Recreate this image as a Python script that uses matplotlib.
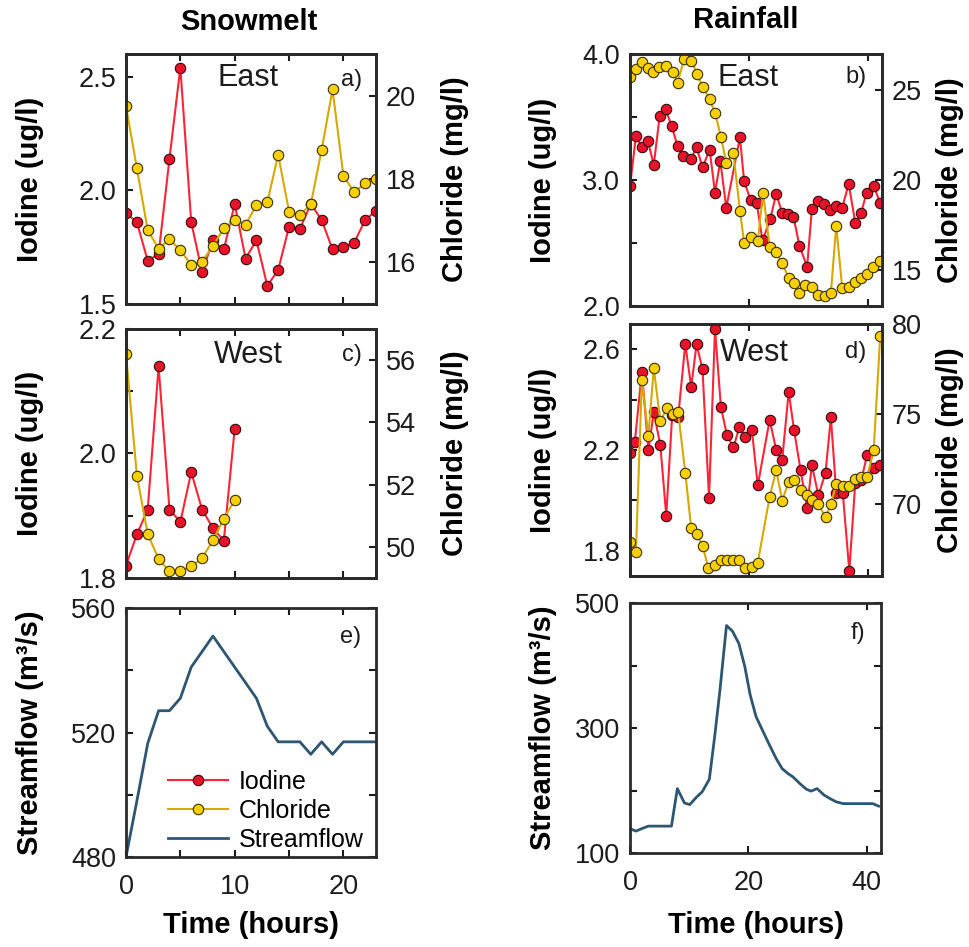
import matplotlib
matplotlib.use('Agg')
import matplotlib.pyplot as plt

plt.rcParams['font.family'] = ['Liberation Sans', 'DejaVu Sans']

# ---- Snowmelt (hourly) ----
snow_east_hours = list(range(24))
snow_east_iodine = [1.90, 1.86, 1.69, 1.72, 2.14, 2.54, 1.86, 1.64, 1.78, 1.74, 1.94, 1.70,
                    1.78, 1.58, 1.65, 1.84, 1.83, 1.94, 1.87, 1.74, 1.75, 1.77, 1.87, 1.91]
snow_east_chloride = [19.75, 18.26, 16.77, 16.33, 16.55, 16.30, 15.93, 16.02, 16.39, 16.82, 17.02, 16.90,
                      17.38, 17.44, 18.58, 17.22, 17.14, 17.39, 18.70, 20.15, 18.08, 17.68, 17.90, 18.01]

snow_west_hours = list(range(11))
snow_west_iodine = [1.82, 1.87, 1.91, 2.14, 1.91, 1.89, 1.97, 1.91, 1.88, 1.86, 2.04]
snow_west_chloride = [56.20, 52.29, 50.41, 49.61, 49.21, 49.21, 49.37, 49.64, 50.21, 50.91, 51.50]

snow_flow_hours = list(range(24))
snow_flow = [480, 498, 516.5, 527, 527, 531, 541, 546, 551, 546, 541, 536,
             531, 522, 517, 517, 517, 513, 517, 513, 517, 517, 517, 517]

# ---- Rainfall ----
rain_east_iod_hours = [0, 1, 2, 3, 4, 5, 6, 7, 8, 9, 10.3, 11.2, 12.2, 13.4, 14.3, 15.2, 16.2, 18.5,
                       19.2, 20.3, 21.3, 22.3, 23.6, 24.6, 25.6, 26.5, 27.5, 28.5, 29.8, 30.6, 31.6,
                       32.7, 33.7, 34.7, 35.7, 36.8, 37.9, 38.9, 39.8, 41.0, 42.1]
rain_east_iodine = [2.95, 3.35, 3.26, 3.31, 3.12, 3.51, 3.56, 3.43, 3.27, 3.19, 3.17, 3.26, 3.10, 3.24,
                    2.90, 3.15, 2.78, 3.34, 2.99, 2.84, 2.82, 2.52, 2.69, 2.89, 2.74, 2.73, 2.71, 2.48,
                    2.31, 2.77, 2.83, 2.81, 2.76, 2.79, 2.78, 2.97, 2.66, 2.74, 2.90, 2.95, 2.82]
rain_east_chl_hours = [0, 1.0, 2.1, 3.0, 3.9, 4.9, 6.1, 7.3, 8.0, 9.1, 10.3, 11.3, 12.2, 13.4, 14.3,
                       15.3, 16.2, 17.4, 18.5, 19.2, 20.3, 21.5, 22.4, 23.5, 24.6, 25.6, 26.7, 27.6,
                       28.5, 29.5, 30.6, 31.6, 32.8, 33.8, 34.7, 35.7, 36.8, 37.8, 38.8, 39.8, 40.9, 42.0]
rain_east_chloride = [25.70, 26.15, 26.54, 26.20, 26.02, 26.30, 26.35, 25.98, 25.41, 26.70, 26.63,
                      25.87, 25.19, 24.48, 23.74, 22.41, 20.96, 21.48, 18.30, 16.52, 16.81, 16.61,
                      19.30, 16.26, 15.98, 15.37, 14.57, 14.26, 13.70, 14.17, 14.07, 13.61, 13.57,
                      13.74, 17.44, 14.02, 14.07, 14.31, 14.54, 14.76, 15.19, 15.50]

rain_west_iod_hours = [0, 0.8, 2.0, 3.1, 4.0, 5.1, 6.1, 7.1, 8.1, 9.3, 10.3, 11.2, 12.2, 13.3, 14.3,
                       15.3, 16.3, 17.4, 18.4, 19.4, 20.5, 21.5, 23.5, 24.6, 25.6, 26.7, 27.6, 28.7,
                       29.8, 30.6, 31.7, 32.9, 33.8, 34.7, 35.8, 36.9, 37.9, 38.9, 39.9, 41.0, 42.0]
rain_west_iodine = [2.19, 2.23, 2.51, 2.20, 2.35, 2.22, 1.94, 2.34, 2.33, 2.62, 2.45, 2.62, 2.52, 2.01,
                    2.68, 2.37, 2.26, 2.21, 2.29, 2.25, 2.28, 2.06, 2.32, 2.20, 2.16, 2.43, 2.28, 2.12,
                    1.97, 2.14, 2.02, 2.11, 2.33, 2.03, 2.03, 1.72, 2.07, 2.08, 2.18, 2.13, 2.14]
rain_west_chl_hours = [0, 1.0, 2.0, 3.1, 4.0, 5.1, 6.2, 7.2, 8.1, 9.3, 10.3, 11.2, 12.2, 13.2, 14.3,
                       15.3, 16.3, 17.4, 18.4, 19.4, 20.5, 21.5, 23.5, 24.6, 25.6, 26.7, 27.6, 28.7,
                       29.8, 30.7, 31.7, 32.9, 33.8, 34.7, 35.8, 36.9, 37.9, 38.9, 39.9, 41.0, 42.1]
rain_west_chloride = [67.91, 67.35, 76.89, 73.78, 77.54, 74.61, 75.31, 74.98, 75.09, 71.74, 68.65,
                      68.33, 67.69, 66.43, 66.61, 66.89, 66.89, 66.89, 66.89, 66.46, 66.52, 66.74,
                      70.41, 71.89, 70.19, 71.24, 71.33, 70.78, 70.50, 70.22, 69.98, 69.26, 70.00,
                      71.11, 71.00, 71.02, 71.37, 71.52, 71.52, 73.00, 79.33]

rain_flow_hours = [0, 1, 2, 3.1, 7, 8, 9.2, 10.1, 11.2, 12.2, 13.4, 14.3, 15.2, 16.3, 17.3, 18.4,
                   19.4, 20.3, 21.3, 22.5, 23.6, 24.7, 25.7, 26.7, 27.5, 28.7, 29.8, 30.6, 31.6,
                   32.8, 33.8, 34.8, 36.0, 41.0, 42.0]
rain_flow = [139, 135, 139, 143, 143, 203, 180, 177.5, 189, 198, 218, 286, 361, 464, 455, 435,
             398, 353, 318, 294, 272, 251, 235, 227, 222, 211, 202, 199, 203, 192.5, 187, 182,
             179, 179, 175]

# colours
RED_LINE, RED_FACE = '#ff2438', '#e8132a'
YEL_LINE, YEL_FACE = '#d6a800', '#f8d000'
FLOW = '#2f5670'
INK = '#1c1c1c'

fig = plt.figure(figsize=(9.7, 9.47), dpi=100)
W, H = 970.0, 947.0


def box(l, t, r, b):
    return fig.add_axes([l / W, 1 - b / H, (r - l) / W, (b - t) / H])


def style(ax):
    for s in ax.spines.values():
        s.set_linewidth(2)
        s.set_color('#2a2a2a')
    ax.tick_params(direction='in', length=5, width=1.5, labelsize=19.5, colors=INK, pad=7)
    ax.tick_params(axis='x', pad=12)


def conc_panel(ax, ti, iod, tc, chl, ylim_i, yt_i, ys_i, ylim_c, yt_c, xlim, xt):
    ax.plot(ti, iod, color=RED_LINE, lw=1.5, marker='o', ms=7.5, mfc=RED_FACE,
            mec='#3a0808', mew=0.8, label='Iodine')
    ax.set_ylim(*ylim_i)
    ax.set_yticks(yt_i)
    ax.set_yticklabels([('%.1f' % t if t in ys_i else '') for t in yt_i])
    ax.set_xlim(*xlim)
    ax.set_xticks(xt)
    style(ax)
    ax.tick_params(top=True, bottom=True, left=True, right=False, labelbottom=False)
    ax2 = ax.twinx()
    ax2.plot(tc, chl, color=YEL_LINE, lw=1.5, marker='o', ms=7.5, mfc=YEL_FACE,
             mec='#3a3000', mew=0.8, label='Chloride')
    ax2.set_ylim(*ylim_c)
    ax2.set_yticks(yt_c)
    style(ax2)
    ax2.tick_params(left=False, right=True)
    return ax2


# ---- panels ----
ax_a = box(126, 54, 376, 304)
ax_a2 = conc_panel(ax_a, snow_east_hours, snow_east_iodine, snow_east_hours, snow_east_chloride,
                   (1.5, 2.6), [1.5, 2.0, 2.5], [1.5, 2.0, 2.5], (15, 21), [16, 18, 20],
                   (0, 23), [0, 5, 10, 15, 20])
ax_b = box(630, 54, 882, 306)
ax_b2 = conc_panel(ax_b, rain_east_iod_hours, rain_east_iodine, rain_east_chl_hours, rain_east_chloride,
                   (2.0, 4.0), [2.0, 2.5, 3.0, 3.5, 4.0], [2.0, 3.0, 4.0], (13, 27), [15, 20, 25],
                   (0, 42.4), [0, 20, 40])
ax_c = box(126, 329, 376, 578)
ax_c2 = conc_panel(ax_c, snow_west_hours, snow_west_iodine, snow_west_hours, snow_west_chloride,
                   (1.8, 2.2), [1.8, 1.9, 2.0, 2.1, 2.2], [1.8, 2.0, 2.2], (49, 57), [50, 52, 54, 56],
                   (0, 23), [0, 5, 10, 15, 20])
ax_d = box(630, 324, 882, 576)
ax_d2 = conc_panel(ax_d, rain_west_iod_hours, rain_west_iodine, rain_west_chl_hours, rain_west_chloride,
                   (1.7, 2.7), [1.8, 2.0, 2.2, 2.4, 2.6], [1.8, 2.2, 2.6], (66, 80), [70, 75, 80],
                   (0, 42.4), [0, 20, 40])

ax_e = box(126, 608, 376, 857)
flow_e, = ax_e.plot(snow_flow_hours, snow_flow, color=FLOW, lw=2, label='Streamflow')
ax_e.set_xlim(0, 23)
ax_e.set_xticks([0, 5, 10, 15, 20])
ax_e.set_xticklabels(['0', '', '10', '', '20'])
ax_e.set_ylim(480, 560)
ax_e.set_yticks([480, 500, 520, 540, 560])
ax_e.set_yticklabels(['480', '', '520', '', '560'])
style(ax_e)
ax_e.tick_params(top=True, right=True)

ax_f = box(630, 603, 881, 853)
ax_f.plot(rain_flow_hours, rain_flow, color=FLOW, lw=2)
ax_f.set_xlim(0, 42.4)
ax_f.set_xticks([0, 20, 40])
ax_f.set_ylim(100, 500)
ax_f.set_yticks([100, 200, 300, 400, 500])
ax_f.set_yticklabels(['100', '', '300', '', '500'])
style(ax_f)
ax_f.tick_params(top=True, right=True)

# ---- axis labels ----
lab = dict(fontsize=21, fontweight='bold', va='center', ha='center')
for ax, x in [(ax_a, -0.384), (ax_c, -0.384), (ax_b, -0.345), (ax_d, -0.345)]:
    ax.set_ylabel('Iodine (ug/l)', **lab)
    ax.yaxis.set_label_coords(x, 0.5)
for ax, x in [(ax_a2, 1.316), (ax_c2, 1.316), (ax_b2, 1.27), (ax_d2, 1.27)]:
    ax.set_ylabel('Chloride (mg/l)', **lab)
    ax.yaxis.set_label_coords(x, 0.5)
for ax, x, yb in [(ax_e, -0.384, 857), (ax_f, -0.345, 853)]:
    ax.set_ylabel('Streamflow (m³/s)', **lab)
    ax.yaxis.set_label_coords(x, 0.5)
    ax.set_xlabel('Time (hours)', **lab)
    ax.xaxis.set_label_coords(0.5, -(925 - yb) / 249.0)

# ---- annotations ----
for ax, name, x, y in [(ax_a, 'East', 0.49, 0.904), (ax_b, 'East', 0.468, 0.905),
                       (ax_c, 'West', 0.49, 0.896), (ax_d, 'West', 0.492, 0.885)]:
    ax.text(x, y, name, transform=ax.transAxes, fontsize=22, ha='center', va='center',
            color=INK, zorder=5)
for ax, tag, x, y in [(ax_a, 'a)', 0.904, 0.896), (ax_b, 'b)', 0.897, 0.909),
                      (ax_c, 'c)', 0.904, 0.896), (ax_d, 'd)', 0.897, 0.889),
                      (ax_e, 'e)', 0.9, 0.884), (ax_f, 'f)', 0.908, 0.88)]:
    ax.text(x, y, tag, transform=ax.transAxes, fontsize=17, ha='center', va='center',
            color=INK, zorder=5)

fig.text(249 / W, 1 - 22 / H, 'Snowmelt', fontsize=21, fontweight='bold', ha='center', va='center')
fig.text(746 / W, 1 - 20 / H, 'Rainfall', fontsize=21, fontweight='bold', ha='center', va='center')

handles = [ax_a.get_lines()[0], ax_a2.get_lines()[0], flow_e]
ax_e.legend(handles, ['Iodine', 'Chloride', 'Streamflow'], loc='lower left',
            bbox_to_anchor=(0.15, 0.0), frameon=False, fontsize=18, handlelength=2.4,
            handletextpad=0.4, labelspacing=0.2, borderaxespad=0.1, borderpad=0.1)

fig.savefig('out.png', dpi=100)
